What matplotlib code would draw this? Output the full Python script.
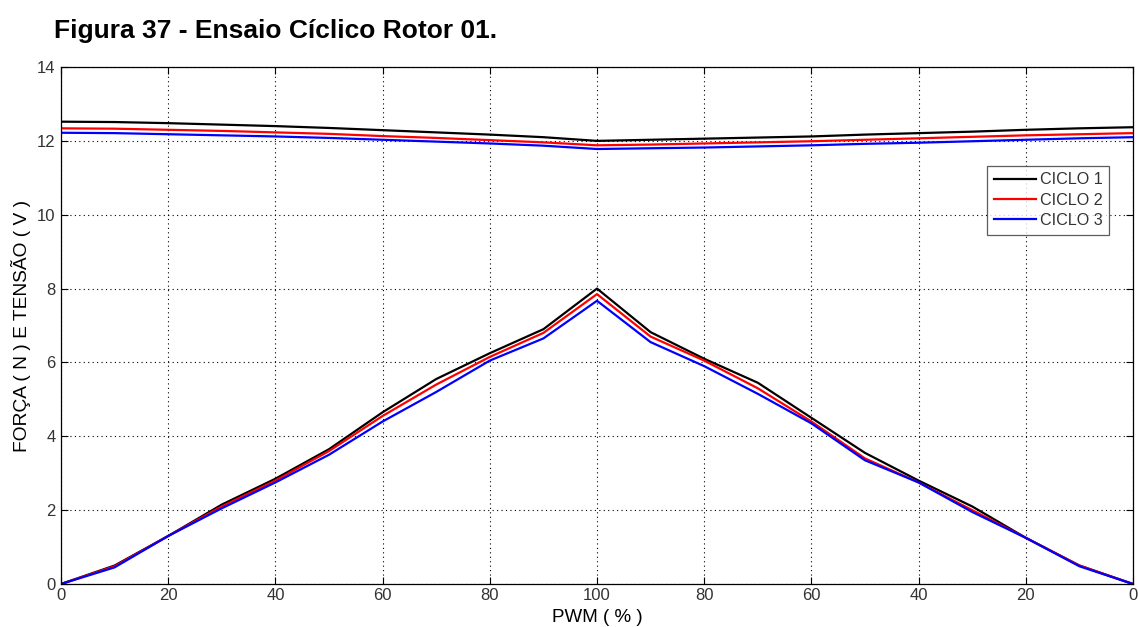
import matplotlib
matplotlib.use("Agg")
import matplotlib.pyplot as plt

plt.rcParams['font.family'] = ['Liberation Sans', 'DejaVu Sans']

# x positions: PWM going up 0..100 then down 100..0 (index 0..200)
x_pos = [0, 10, 20, 30, 40, 50, 60, 70, 80, 90, 100, 110, 120, 130, 140, 150, 160, 170, 180, 190, 200]
tick_pos = [0, 20, 40, 60, 80, 100, 120, 140, 160, 180, 200]
tick_labels = ['0', '20', '40', '60', '80', '100', '80', '60', '40', '20', '0']

# Force (N) curves
forca_c1 = [0, 0.5, 1.3, 2.15, 2.85, 3.65, 4.65, 5.55, 6.25, 6.9, 8.0, 6.82, 6.1, 5.45, 4.5, 3.55, 2.8, 2.1, 1.25, 0.5, 0]
forca_c2 = [0, 0.48, 1.3, 2.1, 2.8, 3.6, 4.55, 5.4, 6.15, 6.8, 7.85, 6.7, 6.05, 5.3, 4.4, 3.4, 2.75, 2.0, 1.25, 0.5, 0]
forca_c3 = [0, 0.45, 1.3, 2.05, 2.75, 3.5, 4.4, 5.2, 6.05, 6.65, 7.67, 6.55, 5.9, 5.15, 4.35, 3.35, 2.75, 1.95, 1.25, 0.48, 0]

# Voltage (V) curves
tensao_c1 = [12.52, 12.51, 12.48, 12.44, 12.4, 12.35, 12.29, 12.23, 12.17, 12.1, 12.0, 12.03, 12.06, 12.09, 12.12, 12.17, 12.21, 12.25, 12.3, 12.34, 12.37]
tensao_c2 = [12.34, 12.33, 12.3, 12.27, 12.23, 12.19, 12.13, 12.08, 12.02, 11.96, 11.88, 11.9, 11.93, 11.96, 11.99, 12.03, 12.07, 12.11, 12.15, 12.18, 12.21]
tensao_c3 = [12.22, 12.21, 12.18, 12.15, 12.12, 12.08, 12.03, 11.98, 11.93, 11.87, 11.78, 11.8, 11.82, 11.85, 11.88, 11.92, 11.95, 11.99, 12.03, 12.07, 12.1]

fig = plt.figure(figsize=(11.38, 6.27), dpi=100)
ax = fig.add_axes([0.0536, 0.0686, 0.9420, 0.8245])

lw = 1.6
ax.plot(x_pos, forca_c1, color='black', lw=lw, label='CICLO 1')
ax.plot(x_pos, forca_c2, color='red', lw=lw, label='CICLO 2')
ax.plot(x_pos, forca_c3, color='blue', lw=lw, label='CICLO 3')
ax.plot(x_pos, tensao_c1, color='black', lw=lw)
ax.plot(x_pos, tensao_c2, color='red', lw=lw)
ax.plot(x_pos, tensao_c3, color='blue', lw=lw)

ax.set_xlim(0, 200)
ax.set_ylim(0, 14)
ax.set_xticks(tick_pos)
ax.set_xticklabels(tick_labels)
ax.set_yticks([0, 2, 4, 6, 8, 10, 12, 14])

ax.grid(True, color='black', linestyle=(0, (1, 3)), linewidth=0.8)
ax.tick_params(direction='in', top=True, right=True, length=5, labelsize=12,
               labelcolor='#333333', width=0.8)
ax.tick_params(axis='x', pad=3)
ax.tick_params(axis='y', pad=4)
for s in ax.spines.values():
    s.set_linewidth(0.9)

ax.set_xlabel('PWM ( % )', fontsize=13.5, labelpad=4)
ax.set_ylabel('FORÇA ( N ) E TENSÃO ( V )', fontsize=13.8, labelpad=4)

leg = ax.legend(loc='upper left', bbox_to_anchor=(0.864, 0.8085), fontsize=11.6,
                frameon=True, fancybox=False, edgecolor='#333333',
                handlelength=2.6, borderpad=0.4, labelspacing=0.33, handletextpad=0.25,
                borderaxespad=0)
leg.get_frame().set_linewidth(0.9)
for t in leg.get_texts():
    t.set_color('#333333')

fig.text(0.0475, 0.951, 'Figura 37 - Ensaio Cíclico Rotor 01.', fontsize=19,
         fontweight='bold', ha='left', va='center')

fig.savefig('out.png', dpi=100)
